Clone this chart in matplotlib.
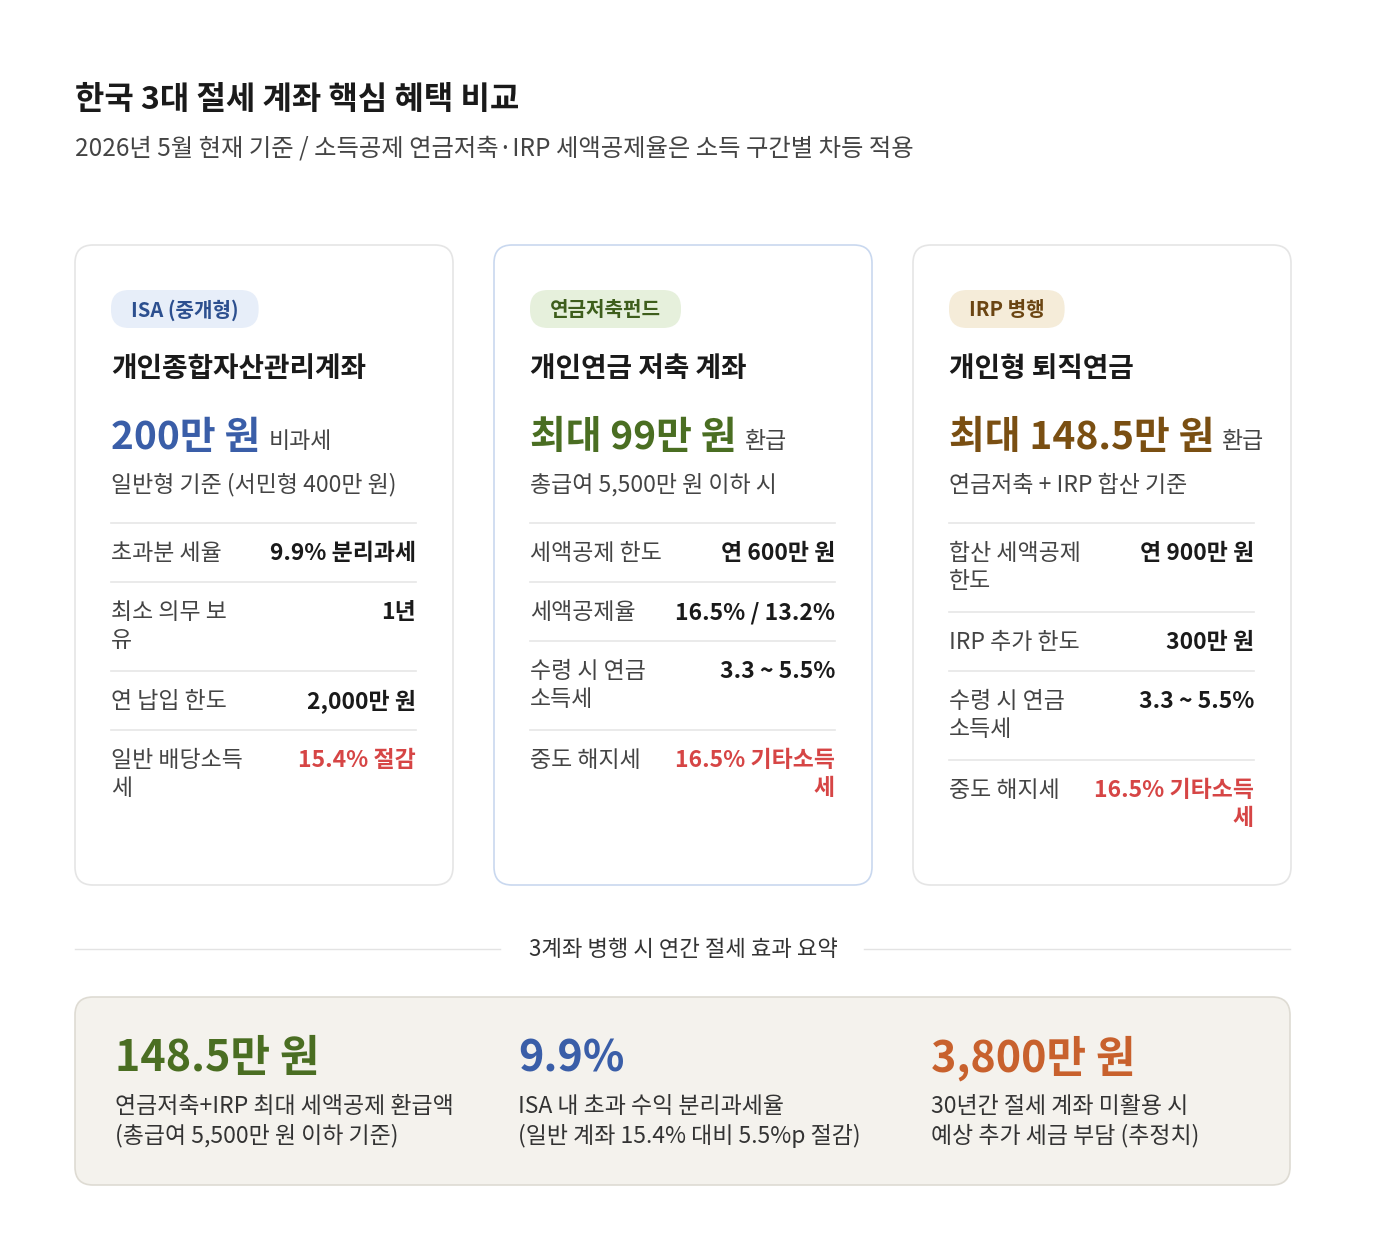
import matplotlib
matplotlib.use("Agg")
import matplotlib.pyplot as plt
from matplotlib.patches import FancyBboxPatch

plt.rcParams['font.family'] = ['Noto Sans CJK KR', 'DejaVu Sans']

title = "한국 3대 절세 계좌 핵심 혜택 비교"
subtitle = "2026년 5월 현재 기준 / 소득공제 연금저축·IRP 세액공제율은 소득 구간별 차등 적용"

pills = ["ISA (중개형)", "연금저축펀드", "IRP 병행"]
card_titles = ["개인종합자산관리계좌", "개인연금 저축 계좌", "개인형 퇴직연금"]
big_values = ["200만 원", "최대 99만 원", "최대 148.5만 원"]
big_suffix = ["비과세", "환급", "환급"]
notes = ["일반형 기준 (서민형 400만 원)", "총급여 5,500만 원 이하 시", "연금저축 + IRP 합산 기준"]
row_labels = [
    ["초과분 세율", "최소 의무 보\n유", "연 납입 한도", "일반 배당소득\n세"],
    ["세액공제 한도", "세액공제율", "수령 시 연금\n소득세", "중도 해지세"],
    ["합산 세액공제\n한도", "IRP 추가 한도", "수령 시 연금\n소득세", "중도 해지세"],
]
row_values = [
    ["9.9% 분리과세", "1년", "2,000만 원", "15.4% 절감"],
    ["연 600만 원", "16.5% / 13.2%", "3.3 ~ 5.5%", "16.5% 기타소득\n세"],
    ["연 900만 원", "300만 원", "3.3 ~ 5.5%", "16.5% 기타소득\n세"],
]
row_red = [[False, False, False, True], [False, False, False, True], [False, False, False, True]]

summary_caption = "3계좌 병행 시 연간 절세 효과 요약"
summary_values = ["148.5만 원", "9.9%", "3,800만 원"]
summary_desc = ["연금저축+IRP 최대 세액공제 환급액\n(총급여 5,500만 원 이하 기준)",
                "ISA 내 초과 수익 분리과세율\n(일반 계좌 15.4% 대비 5.5%p 절감)",
                "30년간 절세 계좌 미활용 시\n예상 추가 세금 부담 (추정치)"]

accent = ["#3a5ea8", "#4a6e22", "#7a4f12"]
pill_bg = ["#e7eef9", "#e6f0dc", "#f5ecd9"]
pill_fg = ["#2c4f8f", "#3e5e1c", "#6b4512"]
sum_colors = ["#4a6e22", "#3a5ea8", "#c8612d"]
red = "#d64545"
dark = "#1a1a1a"
gray = "#444444"

W, H = 1374, 1256
fig = plt.figure(figsize=(W / 100, H / 100), dpi=100)
ax = fig.add_axes([0, 0, 1, 1])
ax.set_xlim(0, W)
ax.set_ylim(H, 0)
ax.axis('off')

ax.text(75, 100, title, fontsize=23, fontweight='bold', color=dark, va='center')
ax.text(75, 149, subtitle, fontsize=17.5, color=gray, va='center')

card_x = [75, 494, 913]
cw, ctop, cbot = 378, 245, 885
fig.canvas.draw()
r = fig.canvas.get_renderer()

for i in range(3):
    x0 = card_x[i]
    ec = "#c9d8ef" if i == 1 else "#e5e5e5"
    ax.add_patch(FancyBboxPatch((x0, ctop), cw, cbot - ctop,
                                boxstyle="round,pad=0,rounding_size=18",
                                fc="white", ec=ec, lw=1.2))
    lx = x0 + 36
    rx = x0 + cw - 37
    t = ax.text(lx + 20, 310, pills[i], fontsize=14.5, fontweight='bold', color=pill_fg[i], va='center')
    bb = t.get_window_extent(r)
    pw = bb.width + 40
    ax.add_patch(FancyBboxPatch((lx, 290), pw, 38, boxstyle="round,pad=0,rounding_size=18",
                                fc=pill_bg[i], ec='none', zorder=1))
    t.set_zorder(2)
    ax.text(lx, 369, card_titles[i], fontsize=20, fontweight='bold', color=dark, va='center')
    bt = ax.text(lx, 437, big_values[i], fontsize=28, fontweight='bold', color=accent[i], va='center')
    bb = bt.get_window_extent(r)
    ax.text(lx + bb.width + 8, 442, big_suffix[i], fontsize=16.5, color=gray, va='center')
    ax.text(lx, 485, notes[i], fontsize=16.5, color=gray, va='center')
    y = 523
    for lab, val, isred in zip(row_labels[i], row_values[i], row_red[i]):
        ax.plot([lx, rx], [y, y], color="#e6e6e6", lw=1.2)
        n = max(lab.count("\n"), val.count("\n")) + 1
        ax.text(lx, y + 19, lab, fontsize=16.5, color=gray, va='top', linespacing=1.3)
        ax.text(rx, y + 19, val, fontsize=16.5, fontweight='bold', color=red if isred else dark,
                va='top', ha='right', multialignment='right', linespacing=1.3)
        y += 30 * n + 29

ax.plot([75, 500], [949, 949], color="#e3e3e3", lw=1)
ax.plot([864, 1290], [949, 949], color="#e3e3e3", lw=1)
ax.text(683, 949, summary_caption, fontsize=16, color="#333333", ha='center', va='center')

ax.add_patch(FancyBboxPatch((75, 997), 1215, 188, boxstyle="round,pad=0,rounding_size=18",
                            fc="#f4f2ed", ec="#dedbd3", lw=1.2))
sx = [115, 518, 931]
for i in range(3):
    ax.text(sx[i], 1058, summary_values[i], fontsize=31, fontweight='bold', color=sum_colors[i], va='center')
    ax.text(sx[i], 1095, summary_desc[i], fontsize=16.5, color="#333333", va='top', linespacing=1.3)

fig.savefig("out.png", dpi=100, facecolor="white")
